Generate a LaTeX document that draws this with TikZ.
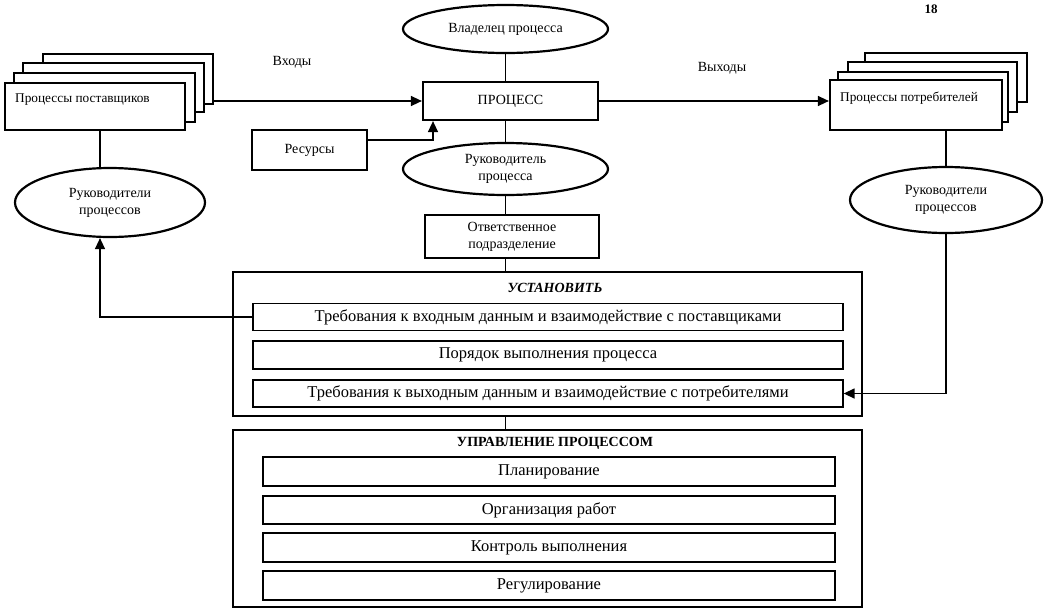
\documentclass[tikz,border=0pt]{standalone}
\usepackage{fontspec}
\setmainfont{Liberation Serif}
\usetikzlibrary{arrows.meta,shapes.geometric}
\begin{document}
\begin{tikzpicture}[x=1pt,y=-1pt,
  thickbox/.style={draw,line width=2.2pt,fill=white,inner sep=0pt,rectangle,align=center,font=\fontsize{14}{17}\selectfont},
  thinbox/.style={draw,line width=1.3pt,fill=white,inner sep=0pt,rectangle,font=\fontsize{16.5}{18}\selectfont},
  bigbox/.style={draw,line width=2.2pt,inner sep=0pt,rectangle},
  oval/.style={draw,ellipse,line width=2.2pt,inner sep=0pt,align=center,font=\fontsize{14}{17}\selectfont},
  conn/.style={line width=1.4pt},
  arr/.style={conn,-{Triangle[length=11pt,width=10pt]}},
  lbl/.style={font=\fontsize{14}{16}\selectfont,inner sep=0pt},
  stk/.style={font=\fontsize{13.3}{16}\selectfont,inner sep=0pt},
  ttl/.style={font=\fontsize{14}{16}\selectfont\bfseries,inner sep=0pt}
]
\useasboundingbox (0,0) rectangle (1045,611);
\fill[white] (0,0) rectangle (1045,611);

% supplier stack
\node[thickbox,minimum width=170,minimum height=50] (s4) at (128,79) {};
\node[thickbox,minimum width=181,minimum height=49] (s3) at (113.5,87.5) {};
\node[thickbox,minimum width=181,minimum height=49] (s2) at (104.5,97.5) {};
\node[thickbox,minimum width=180,minimum height=47] (s1) at (95,106.5) {};
\node[stk,anchor=west] (stext) at (15,100) {Процессы поставщиков};

% consumer stack
\node[thickbox,minimum width=162,minimum height=49] (c4) at (946,77.5) {};
\node[thickbox,minimum width=169,minimum height=50] (c3) at (932.5,87) {};
\node[thickbox,minimum width=170,minimum height=50] (c2) at (923,97) {};
\node[thickbox,minimum width=172,minimum height=50] (c1) at (916,105) {};
\node[stk,anchor=west] (ctext) at (840,98) {Процессы потребителей};

% centre column
\node[oval,minimum width=205,minimum height=48] (own) at (505.5,29) {Владелец процесса};
\node[thickbox,minimum width=175,minimum height=38] (proc) at (510.5,101) {ПРОЦЕСС};
\node[thickbox,minimum width=115,minimum height=40] (res) at (309.5,150) {Ресурсы};
\node[oval,minimum width=205,minimum height=52] (rp) at (505.5,169) {Руководитель\\процесса};
\node[thickbox,minimum width=174,minimum height=43] (resp) at (512,236.5) {Ответственное\\подразделение};

% side ellipses
\node[oval,minimum width=190,minimum height=69] (lell) at (110,202.5) {Руководители\\процессов};
\node[oval,minimum width=192,minimum height=66] (rell) at (946,200) {Руководители\\процессов};

% labels
\node[lbl] (inl) at (292,62) {Входы};
\node[lbl] (outl) at (722,68) {Выходы};
\node[lbl,font=\fontsize{13}{15}\selectfont\bfseries] (page) at (931,9) {18};

% block 1
\node[bigbox,minimum width=629,minimum height=144] (b1) at (547.5,344) {};
\node[ttl,font=\fontsize{14}{16}\selectfont\bfseries\itshape] (t1) at (555,288) {УСТАНОВИТЬ};
\node[thinbox,minimum width=590,minimum height=27] (i1) at (548,317) {Требования к входным данным и взаимодействие с поставщиками};
\node[thinbox,minimum width=590,minimum height=28] (i2) at (548,355) {Порядок выполнения процесса};
\node[thinbox,minimum width=590,minimum height=27] (i3) at (548,393.5) {Требования к выходным данным и взаимодействие с потребителями};

% block 2
\node[bigbox,minimum width=629,minimum height=177] (b2) at (547.5,518.5) {};
\node[ttl] (t2) at (555,443) {УПРАВЛЕНИЕ ПРОЦЕССОМ};
\node[thinbox,minimum width=572,minimum height=29] (j1) at (549,471.5) {Планирование};
\node[thinbox,minimum width=572,minimum height=28] (j2) at (549,510) {Организация работ};
\node[thinbox,minimum width=572,minimum height=29] (j3) at (549,547.5) {Контроль выполнения};
\node[thinbox,minimum width=572,minimum height=29] (j4) at (549,585.5) {Регулирование};

% connectors
\coordinate (lx) at (100,0);
\coordinate (rx) at (946,0);
\coordinate (rc) at (433,140);
\draw[arr] (s4.east |- proc.west) -- (proc.west);
\draw[arr] (proc.east) -- (c1.west |- proc.east);
\draw[conn] (own.south) -- (own.south |- proc.north);
\draw[conn] (own.south |- proc.south) -- (rp.north);
\draw[arr] (res.east |- rc) -- (rc) -- (rc |- proc.south);
\draw[conn] (rp.south) -- (rp.south |- resp.north);
\draw[conn] (rp.south |- resp.south) -- (rp.south |- b1.north);
\draw[conn] (rp.south |- b1.south) -- (rp.south |- b2.north);
\draw[conn] (lx |- s1.south) -- (lx |- lell.north);
\draw[arr] (i1.west) -- (lx |- i1.west) -- (lx |- lell.south);
\draw[conn] (rx |- c1.south) -- (rell.north);
\draw[arr] (rell.south) -- (rell.south |- i3.east) -- (i3.east);
\end{tikzpicture}
\end{document}
